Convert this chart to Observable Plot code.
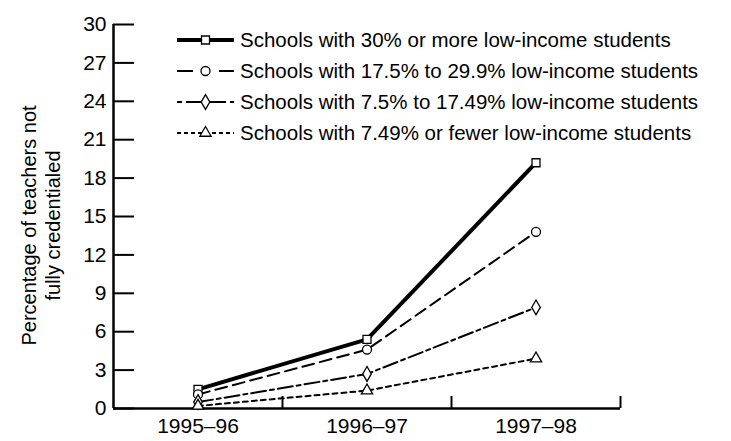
<!DOCTYPE html>
<html>
<head>
<meta charset="utf-8">
<script src="https://cdn.jsdelivr.net/npm/d3@7"></script>
<script src="https://cdn.jsdelivr.net/npm/@observablehq/plot@0.6"></script>
<style>
  html, body { margin: 0; padding: 0; background: #fff; }
  #wrap { position: relative; width: 731px; height: 441px; font-family: "Liberation Sans", Arial, Helvetica, sans-serif; }
  #legend { position: absolute; left: 177px; top: 24px; }
  .row { display: flex; align-items: center; height: 31px; font-size: 20.5px; color: #000; }
  .row svg { margin-right: 6px; }
</style>
</head>
<body>
<div id="wrap"></div>
<script>
// ---- data ----
const years = ["1995–96", "1996–97", "1997–98"];
const seriesNames = [
  "Schools with 30% or more low-income students",
  "Schools with 17.5% to 29.9% low-income students",
  "Schools with 7.5% to 17.49% low-income students",
  "Schools with 7.49% or fewer low-income students"
];
const s30plus = [1.5, 5.4, 19.2];
const s17to29 = [1.1, 4.6, 13.8];
const s7to17 = [0.5, 2.7, 7.9];
const s7less = [0.2, 1.4, 3.9];
const yTicks = [0, 3, 6, 9, 12, 15, 18, 21, 24, 27, 30];
const yLabel = "Percentage of teachers not\nfully credentialed";

// ---- styles ----
const styles = [
  {symbol: "square", width: 4, dash: null, r: 4.5, legendDash: null},
  {symbol: "circle", width: 2, dash: "12,6", r: 4.5, legendDash: "16,26,16"},
  {symbol: "diamond", width: 2, dash: "15,4,4,4", r: 4.5, legendDash: "5,4,40,4,5"},
  {symbol: "triangle", width: 2, dash: "5,4", r: 4.2, legendDash: "4,3"}
];
const allSeries = [s30plus, s17to29, s7to17, s7less];

const rows = [];
allSeries.forEach((vals, si) => vals.forEach((v, i) => rows.push({series: seriesNames[si], si, year: years[i], xi: i + 0.5, value: v})));

const marks = [];
allSeries.forEach((vals, si) => {
  const d = rows.filter(r => r.si === si);
  marks.push(Plot.line(d, {x: "xi", y: "value", stroke: "black", strokeWidth: styles[si].width, strokeDasharray: styles[si].dash}));
});
allSeries.forEach((vals, si) => {
  const d = rows.filter(r => r.si === si);
  marks.push(Plot.dot(d, {x: "xi", y: "value", symbol: () => styles[si].symbol, r: styles[si].r, fill: "white", stroke: "black", strokeWidth: 1.3}));
});

const chart = Plot.plot({
  width: 731,
  height: 441,
  marginLeft: 113,
  marginRight: 111,
  marginTop: 24,
  marginBottom: 33,
  style: {fontFamily: "'Liberation Sans', Arial, Helvetica, sans-serif", background: "white", color: "black"},
  x: {domain: [0, 3], axis: null},
  y: {domain: [0, 30], axis: null},
  symbol: {type: "identity"},
  marks: [
    Plot.axisY(yTicks, {tickSize: -21, tickPadding: 28, strokeWidth: 2, fontSize: 21, label: null, tickFormat: d => String(d)}),
    Plot.axisX([1, 2, 3], {tickSize: -12, strokeWidth: 2, tickFormat: () => "", label: null}),
    Plot.axisX(years.map((y, i) => i + 0.5), {tickSize: 0, tickPadding: 10, fontSize: 21, label: null, tickFormat: d => years[d - 0.5]}),
    Plot.ruleX([0], {strokeWidth: 2.5}),
    Plot.ruleY([0], {strokeWidth: 2.5}),
    Plot.text([yLabel], {frameAnchor: "left", text: d => d, rotate: -90, textAnchor: "middle", dx: -73, dy: 9, fontSize: 20, lineHeight: 1.2}),
    ...marks
  ]
});

const wrap = document.getElementById("wrap");
wrap.appendChild(chart);

// ---- legend overlay ----
const legend = document.createElement("div");
legend.id = "legend";
seriesNames.forEach((name, si) => {
  const row = document.createElement("div");
  row.className = "row";
  const w = 57, h = 20, cy = h / 2;
  const svg = d3.create("svg").attr("width", w).attr("height", h);
  svg.append("line").attr("x1", 0).attr("x2", w).attr("y1", cy).attr("y2", cy)
    .attr("stroke", "black").attr("stroke-width", styles[si].width)
    .attr("stroke-dasharray", styles[si].legendDash);
  const sym = {square: d3.symbolSquare, circle: d3.symbolCircle, diamond: d3.symbolDiamond, triangle: d3.symbolTriangle}[styles[si].symbol];
  const r = styles[si].r;
  svg.append("path").attr("d", d3.symbol(sym, Math.PI * r * r)())
    .attr("transform", `translate(${w / 2},${cy})`)
    .attr("fill", "white").attr("stroke", "black").attr("stroke-width", 1.3);
  row.appendChild(svg.node());
  const span = document.createElement("span");
  span.textContent = name;
  row.appendChild(span);
  legend.appendChild(row);
});
wrap.appendChild(legend);
</script>
</body>
</html>
